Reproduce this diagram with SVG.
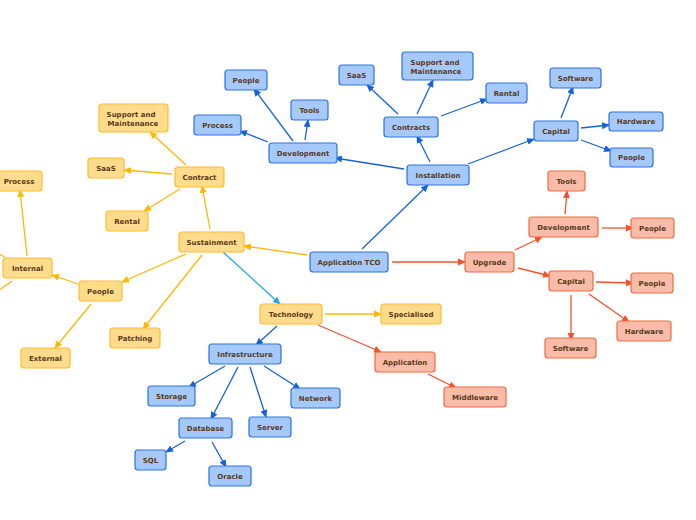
<svg xmlns="http://www.w3.org/2000/svg" width="696" height="520" viewBox="0 0 696 520">
<defs>
<style>
rect{stroke-width:1.2}
.y rect{fill:#FFDB8C;stroke:#FFBC2E}
.b rect{fill:#A6C9FB;stroke:#2C72E0}
.r rect{fill:#F8BCA8;stroke:#F26A42}
text{font-family:"DejaVu Sans",Verdana,sans-serif;font-weight:bold;font-size:7px;fill:#5A3A1A;text-anchor:middle}
#connectors path{fill:none;stroke-width:1.3}
.cy{stroke:#FFB800}
.cb{stroke:#1563DB}
.cr{stroke:#F4512C}
.cc{stroke:#1FA9E9}
</style>
<marker id="ay" viewBox="0 0 8 8" refX="7" refY="4" markerWidth="8" markerHeight="8" markerUnits="userSpaceOnUse" orient="auto"><path d="M0,0.5 L8,4 L0,7.5 z" fill="#FFB800"/></marker>
<marker id="ab" viewBox="0 0 8 8" refX="7" refY="4" markerWidth="8" markerHeight="8" markerUnits="userSpaceOnUse" orient="auto"><path d="M0,0.5 L8,4 L0,7.5 z" fill="#1563DB"/></marker>
<marker id="ar" viewBox="0 0 8 8" refX="7" refY="4" markerWidth="8" markerHeight="8" markerUnits="userSpaceOnUse" orient="auto"><path d="M0,0.5 L8,4 L0,7.5 z" fill="#F4512C"/></marker>
<marker id="ac" viewBox="0 0 8 8" refX="7" refY="4" markerWidth="8" markerHeight="8" markerUnits="userSpaceOnUse" orient="auto"><path d="M0,0.5 L8,4 L0,7.5 z" fill="#1FA9E9"/></marker>
</defs>
<rect width="696" height="520" fill="#FFFFFF"/>
<g id="connectors">
<path class="cy" d="M307,255 L244,246" marker-end="url(#ay)"/>
<path class="cb" d="M362,249 L428,185" marker-end="url(#ab)"/>
<path class="cr" d="M392,262 L465,262" marker-end="url(#ar)"/>
<path class="cy" d="M210,229 L202,186" marker-end="url(#ay)"/>
<path class="cy" d="M186,254 L122,282" marker-end="url(#ay)"/>
<path class="cy" d="M202,255 L143,329" marker-end="url(#ay)"/>
<path class="cc" d="M223,252 L280,304" marker-end="url(#ac)"/>
<path class="cy" d="M186,165 L150,132" marker-end="url(#ay)"/>
<path class="cy" d="M172,174 L124,170" marker-end="url(#ay)"/>
<path class="cy" d="M180,189 L144,211" marker-end="url(#ay)"/>
<path class="cy" d="M78,284 L52,275" marker-end="url(#ay)"/>
<path class="cy" d="M91,304 L55,348" marker-end="url(#ay)"/>
<path class="cy" d="M27,256 L20,190" marker-end="url(#ay)"/>
<path class="cy" d="M5,257 L-12,249"/>
<path class="cy" d="M12,281 L-12,298"/>
<path class="cy" d="M325,314 L381,314" marker-end="url(#ay)"/>
<path class="cr" d="M318,325 L381,352" marker-end="url(#ar)"/>
<path class="cb" d="M277,326 L256,345" marker-end="url(#ab)"/>
<path class="cr" d="M428,374 L456,388" marker-end="url(#ar)"/>
<path class="cb" d="M225,366 L189,387" marker-end="url(#ab)"/>
<path class="cb" d="M238,367 L211,419" marker-end="url(#ab)"/>
<path class="cb" d="M250,367 L266,417" marker-end="url(#ab)"/>
<path class="cb" d="M264,366 L300,389" marker-end="url(#ab)"/>
<path class="cb" d="M185,441 L166,452" marker-end="url(#ab)"/>
<path class="cb" d="M212,442 L226,467" marker-end="url(#ab)"/>
<path class="cb" d="M404,169 L335,158" marker-end="url(#ab)"/>
<path class="cb" d="M430,162 L417,136" marker-end="url(#ab)"/>
<path class="cb" d="M468,164 L534,139" marker-end="url(#ab)"/>
<path class="cb" d="M268,142 L240,131" marker-end="url(#ab)"/>
<path class="cb" d="M293,141 L254,89" marker-end="url(#ab)"/>
<path class="cb" d="M305,140 L308,120" marker-end="url(#ab)"/>
<path class="cb" d="M398,114 L367,85" marker-end="url(#ab)"/>
<path class="cb" d="M417,114 L433,80" marker-end="url(#ab)"/>
<path class="cb" d="M441,116 L487,99" marker-end="url(#ab)"/>
<path class="cb" d="M561,118 L573,87" marker-end="url(#ab)"/>
<path class="cb" d="M581,128 L609,125" marker-end="url(#ab)"/>
<path class="cb" d="M581,140 L611,151" marker-end="url(#ab)"/>
<path class="cr" d="M515,250 L542,237" marker-end="url(#ar)"/>
<path class="cr" d="M518,268 L550,276" marker-end="url(#ar)"/>
<path class="cr" d="M565,214 L567,191" marker-end="url(#ar)"/>
<path class="cr" d="M602,228 L633,228" marker-end="url(#ar)"/>
<path class="cr" d="M596,282 L633,283" marker-end="url(#ar)"/>
<path class="cr" d="M589,294 L629,322" marker-end="url(#ar)"/>
<path class="cr" d="M571,295 L571,340" marker-end="url(#ar)"/>
</g>
<g id="app-tco" class="b"><rect x="310" y="252" width="78" height="20" rx="3"/><text x="349" y="264.5">Application TCO</text></g>
<g id="sustainment" class="y"><rect x="179" y="232" width="65" height="20" rx="3"/><text x="211.5" y="244.5">Sustainment</text></g>
<g id="contract" class="y"><rect x="175" y="167" width="49" height="20" rx="3"/><text x="199.5" y="179.5">Contract</text></g>
<g id="support-y" class="y"><rect x="99" y="104" width="69" height="28" rx="3"/><text x="131" y="116.5">Support and</text><text x="133" y="125.5">Maintenance</text></g>
<g id="saas-y" class="y"><rect x="88" y="158" width="36" height="20" rx="3"/><text x="106" y="170.5">SaaS</text></g>
<g id="rental-y" class="y"><rect x="106" y="211" width="42" height="20" rx="3"/><text x="127" y="223.5">Rental</text></g>
<g id="process-y" class="y"><rect x="-4" y="171" width="46" height="20" rx="3"/><text x="19" y="183.5">Process</text></g>
<g id="internal" class="y"><rect x="3" y="258" width="49" height="20" rx="3"/><text x="27.5" y="270.5">Internal</text></g>
<g id="people-y" class="y"><rect x="79" y="281" width="43" height="20" rx="3"/><text x="100.5" y="293.5">People</text></g>
<g id="patching" class="y"><rect x="110" y="328" width="50" height="20" rx="3"/><text x="135" y="340.5">Patching</text></g>
<g id="external" class="y"><rect x="21" y="348" width="49" height="20" rx="3"/><text x="45.5" y="360.5">External</text></g>
<g id="technology" class="y"><rect x="260" y="304" width="62" height="20" rx="3"/><text x="291" y="316.5">Technology</text></g>
<g id="specialised" class="y"><rect x="381" y="304" width="60" height="20" rx="3"/><text x="411" y="316.5">Specialised</text></g>
<g id="application" class="r"><rect x="375" y="352" width="60" height="20" rx="3"/><text x="405" y="364.5">Application</text></g>
<g id="middleware" class="r"><rect x="444" y="387" width="62" height="20" rx="3"/><text x="475" y="399.5">Middleware</text></g>
<g id="infrastructure" class="b"><rect x="209" y="344" width="72" height="20" rx="3"/><text x="245" y="356.5">Infrastructure</text></g>
<g id="storage" class="b"><rect x="148" y="386" width="47" height="20" rx="3"/><text x="171.5" y="398.5">Storage</text></g>
<g id="network" class="b"><rect x="291" y="388" width="49" height="20" rx="3"/><text x="315.5" y="400.5">Network</text></g>
<g id="database" class="b"><rect x="179" y="418" width="53" height="20" rx="3"/><text x="205.5" y="430.5">Database</text></g>
<g id="server" class="b"><rect x="249" y="417" width="42" height="20" rx="3"/><text x="270" y="429.5">Server</text></g>
<g id="sql" class="b"><rect x="135" y="450" width="31" height="20" rx="3"/><text x="150.5" y="462.5">SQL</text></g>
<g id="oracle" class="b"><rect x="209" y="466" width="42" height="20" rx="3"/><text x="230" y="478.5">Oracle</text></g>
<g id="installation" class="b"><rect x="407" y="165" width="62" height="20" rx="3"/><text x="438" y="177.5">Installation</text></g>
<g id="development-b" class="b"><rect x="269" y="143" width="68" height="20" rx="3"/><text x="303" y="155.5">Development</text></g>
<g id="process-b" class="b"><rect x="194" y="115" width="47" height="20" rx="3"/><text x="217.5" y="127.5">Process</text></g>
<g id="people-b1" class="b"><rect x="225" y="70" width="42" height="20" rx="3"/><text x="246" y="82.5">People</text></g>
<g id="tools-b" class="b"><rect x="291" y="100" width="37" height="20" rx="3"/><text x="309.5" y="112.5">Tools</text></g>
<g id="contracts" class="b"><rect x="384" y="117" width="54" height="20" rx="3"/><text x="411" y="129.5">Contracts</text></g>
<g id="saas-b" class="b"><rect x="339" y="65" width="35" height="20" rx="3"/><text x="356.5" y="77.5">SaaS</text></g>
<g id="support-b" class="b"><rect x="402" y="52" width="71" height="28" rx="3"/><text x="435" y="64.5">Support and</text><text x="436" y="73.5">Maintenance</text></g>
<g id="rental-b" class="b"><rect x="486" y="83" width="41" height="20" rx="3"/><text x="506.5" y="95.5">Rental</text></g>
<g id="capital-b" class="b"><rect x="534" y="121" width="44" height="20" rx="3"/><text x="556" y="133.5">Capital</text></g>
<g id="software-b" class="b"><rect x="550" y="68" width="51" height="20" rx="3"/><text x="575.5" y="80.5">Software</text></g>
<g id="hardware-b" class="b"><rect x="609" y="112" width="54" height="19" rx="3"/><text x="636" y="124">Hardware</text></g>
<g id="people-b2" class="b"><rect x="610" y="148" width="43" height="19" rx="3"/><text x="631.5" y="160">People</text></g>
<g id="upgrade" class="r"><rect x="465" y="252" width="49" height="20" rx="3"/><text x="489.5" y="264.5">Upgrade</text></g>
<g id="development-r" class="r"><rect x="529" y="217" width="69" height="20" rx="3"/><text x="563.5" y="229.5">Development</text></g>
<g id="tools-r" class="r"><rect x="548" y="171" width="37" height="20" rx="3"/><text x="566.5" y="183.5">Tools</text></g>
<g id="people-r1" class="r"><rect x="631" y="218" width="43" height="20" rx="3"/><text x="652.5" y="230.5">People</text></g>
<g id="capital-r" class="r"><rect x="549" y="271" width="44" height="20" rx="3"/><text x="571" y="283.5">Capital</text></g>
<g id="people-r2" class="r"><rect x="631" y="273" width="42" height="20" rx="3"/><text x="652" y="285.5">People</text></g>
<g id="hardware-r" class="r"><rect x="617" y="321" width="54" height="20" rx="3"/><text x="644" y="333.5">Hardware</text></g>
<g id="software-r" class="r"><rect x="545" y="338" width="51" height="20" rx="3"/><text x="570.5" y="350.5">Software</text></g>
</svg>
